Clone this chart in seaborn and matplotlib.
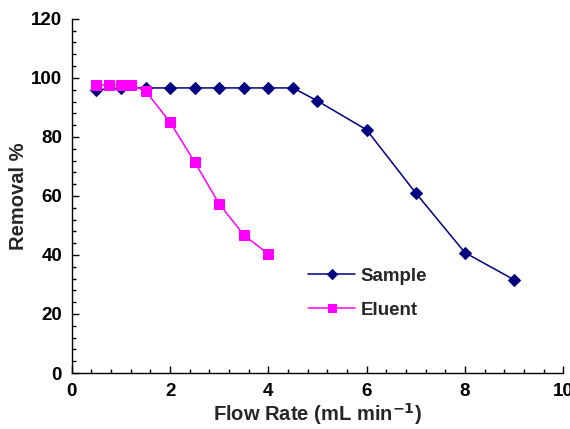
import numpy as np
import pandas as pd
import matplotlib
matplotlib.use("Agg")
import matplotlib.pyplot as plt
import seaborn as sns
from matplotlib.ticker import MultipleLocator

# ===== data =====
sample_flow = [0.5, 1.0, 1.5, 2.0, 2.5, 3.0, 3.5, 4.0, 4.5, 5.0, 6.0, 7.0, 8.0, 9.0]
sample_removal = [96.0, 96.5, 96.6, 96.6, 96.6, 96.6, 96.6, 96.6, 96.6, 92.2, 82.4, 61.0, 40.8, 31.6]

eluent_flow = [0.5, 0.75, 1.0, 1.2, 1.5, 2.0, 2.5, 3.0, 3.5, 4.0]
eluent_removal = [97.6, 97.6, 97.6, 97.6, 95.6, 85.0, 71.5, 57.3, 46.8, 40.3]

sns.set_theme(style="ticks")
plt.rcParams['font.family'] = ['Liberation Sans', 'DejaVu Sans']
plt.rcParams['font.weight'] = 'bold'

fig = plt.figure(figsize=(5.7, 4.29), dpi=100)
ax = fig.add_axes([0.126, 0.1305, 0.862, 0.8255])

df_s = pd.DataFrame({'flow': sample_flow, 'removal': sample_removal})
df_e = pd.DataFrame({'flow': eluent_flow, 'removal': eluent_removal})

sns.lineplot(data=df_s, x='flow', y='removal', ax=ax, color='#000080',
             marker='D', markersize=6, markeredgecolor='#000080',
             linewidth=1.1, label='Sample')
sns.lineplot(data=df_e, x='flow', y='removal', ax=ax, color='#ff00ff',
             marker='s', markersize=7, markeredgecolor='#ff00ff',
             linewidth=1.1, label='Eluent')

ax.set_xlim(0, 10)
ax.set_ylim(0, 120)
ax.xaxis.set_major_locator(MultipleLocator(2))
ax.xaxis.set_minor_locator(MultipleLocator(0.4))
ax.yaxis.set_major_locator(MultipleLocator(20))
ax.yaxis.set_minor_locator(MultipleLocator(4))
ax.tick_params(which='both', direction='in', colors='black', labelsize=13.5)
ax.tick_params(which='major', length=5, width=1)
ax.tick_params(which='minor', length=3, width=1)
ax.tick_params(axis='x', pad=7)
ax.tick_params(axis='y', pad=7)
for lab in ax.get_xticklabels() + ax.get_yticklabels():
    lab.set_fontweight('bold')

ax.set_xlabel('Flow Rate (mL min$^{\\mathbf{-1}}$)', fontsize=14.5, fontweight='bold', labelpad=1)
ax.set_ylabel('Removal %', fontsize=14.5, fontweight='bold', labelpad=2)

for s in ['top', 'right']:
    ax.spines[s].set_visible(False)
for s in ['left', 'bottom']:
    ax.spines[s].set_color('black')
    ax.spines[s].set_linewidth(1)

leg = ax.legend(loc='upper left', bbox_to_anchor=(0.447, 0.345), frameon=False,
                prop={'weight': 'bold', 'size': 13.5}, handlelength=2.5,
                labelspacing=0.9, handletextpad=0.3, markerscale=0.9)

fig.savefig('out.png', dpi=100)
